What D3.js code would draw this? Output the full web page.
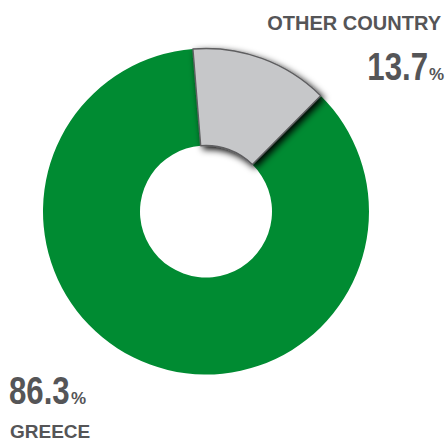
<!DOCTYPE html>
<html><head><meta charset="utf-8">
<script src="https://cdn.jsdelivr.net/npm/d3@7"></script>
<style>html,body{margin:0;padding:0;background:#fff;}svg{display:block;}</style>
</head><body>
<script>
const categories = ["OTHER COUNTRY", "GREECE"];
const values = [13.7, 86.3];
const valueLabels = ["13.7", "86.3"];
const colors = ["#c6c7c9", "#008b32"];

const W = 446, H = 440;
const cx = 206, cy = 211.5, R = 163, r = 66;
const svg = d3.select("body").append("svg").attr("width", W).attr("height", H);

const defs = svg.append("defs");
const f = defs.append("filter").attr("id", "sh").attr("x", "-50%").attr("y", "-50%").attr("width", "200%").attr("height", "200%");
f.append("feDropShadow").attr("dx", 3).attr("dy", 3).attr("stdDeviation", 3.5).attr("flood-color", "#000").attr("flood-opacity", 1);

const startDeg = -4.6;
const pie = d3.pie().sort(null).value(d => d)
  .startAngle(startDeg * Math.PI / 180)
  .endAngle(startDeg * Math.PI / 180 + 2 * Math.PI);
const arcs = pie(values);
const arc = d3.arc().innerRadius(r).outerRadius(R);

const g = svg.append("g").attr("transform", `translate(${cx},${cy})`);
g.append("path").attr("d", arc(arcs[1])).attr("fill", colors[1]);
g.append("path").attr("d", arc(arcs[0])).attr("fill", colors[0])
  .attr("stroke", "#5e5e60").attr("stroke-width", 1.4).attr("stroke-linejoin", "round")
  .attr("filter", "url(#sh)");

const txt = "#555557";
const font = "'Liberation Sans', Arial, Helvetica, sans-serif";

svg.append("text").attr("x", 441).attr("y", 29.5).attr("text-anchor", "end")
  .attr("font-family", font).attr("font-weight", "bold").attr("font-size", 20)
  .attr("fill", txt).text(categories[0]);
svg.append("g").attr("transform", "translate(428,79.5) scale(0.81,1)")
  .append("text").attr("text-anchor", "end")
  .attr("font-family", font).attr("font-weight", "bold").attr("font-size", 38.5)
  .attr("fill", txt).text(valueLabels[0]);
svg.append("text").attr("x", 429).attr("y", 79.5)
  .attr("font-family", font).attr("font-weight", "bold").attr("font-size", 17)
  .attr("fill", txt).text("%");

svg.append("g").attr("transform", "translate(9,404.3) scale(0.81,1)")
  .append("text").attr("text-anchor", "start")
  .attr("font-family", font).attr("font-weight", "bold").attr("font-size", 38.5)
  .attr("fill", txt).text(valueLabels[1]);
svg.append("text").attr("x", 71).attr("y", 404.3)
  .attr("font-family", font).attr("font-weight", "bold").attr("font-size", 17)
  .attr("fill", txt).text("%");
svg.append("text").attr("x", 10).attr("y", 437.5)
  .attr("font-family", font).attr("font-weight", "bold").attr("font-size", 19)
  .attr("fill", txt).text(categories[1]);
</script>
</body></html>
